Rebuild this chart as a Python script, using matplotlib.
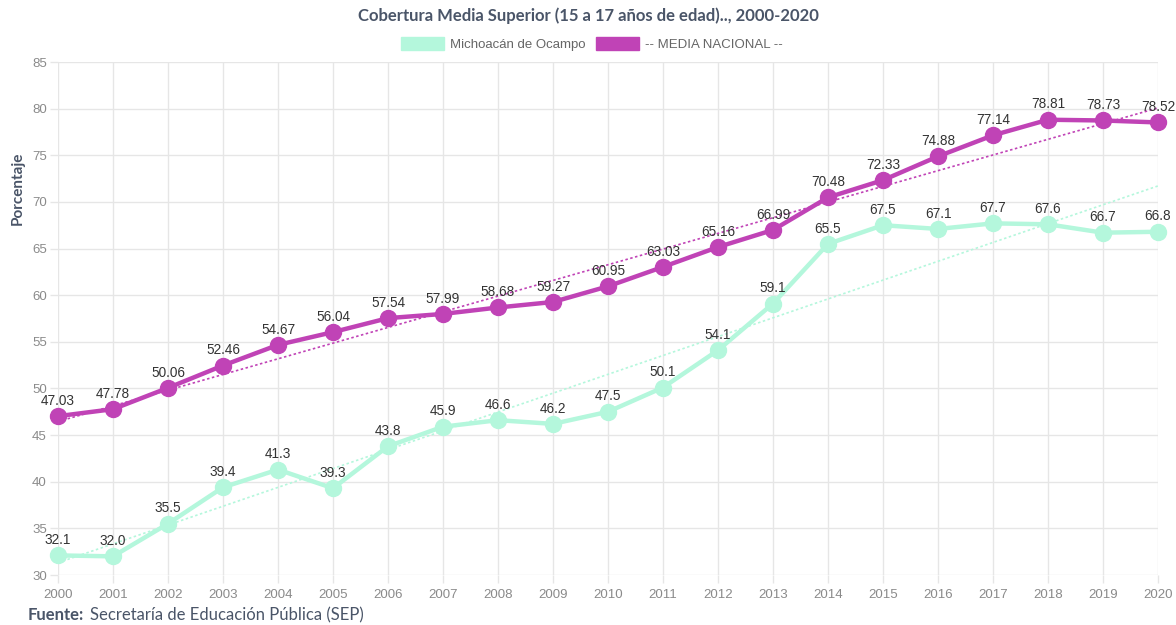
import numpy as np
import matplotlib
matplotlib.use('Agg')
from matplotlib import pyplot as plt
from matplotlib.patches import Patch

years = list(range(2000, 2021))
michoacan = [32.1, 32.0, 35.5, 39.4, 41.3, 39.3, 43.8, 45.9, 46.6, 46.2, 47.5,
             50.1, 54.1, 59.1, 65.5, 67.5, 67.1, 67.7, 67.6, 66.7, 66.8]
nacional = [47.03, 47.78, 50.06, 52.46, 54.67, 56.04, 57.54, 57.99, 58.68, 59.27, 60.95,
            63.03, 65.16, 66.99, 70.48, 72.33, 74.88, 77.14, 78.81, 78.73, 78.52]

GREEN = '#b4f7dc'
PURPLE = '#c043b6'
SLATE = '#4a5568'
TICK = '#8a8a8a'

plt.rcParams['font.family'] = ['Liberation Sans', 'DejaVu Sans']

fig = plt.figure(figsize=(11.76, 6.25), dpi=100)
ax = fig.add_axes([58 / 1176, 1 - 575 / 625, 1100 / 1176, 513 / 625])

x = np.array(years)

# trend lines (linear fit of each series)
for vals, col in [(michoacan, GREEN), (nacional, PURPLE)]:
    m, b = np.polyfit(x, vals, 1)
    ax.plot(x, m * x + b, color=col, lw=1.2, ls=(0, (1.5, 1.5)), zorder=2)

ax.plot(x, michoacan, color=GREEN, lw=3.2, marker='o', ms=11.5, zorder=3, clip_on=False)
ax.plot(x, nacional, color=PURPLE, lw=3.2, marker='o', ms=11.5, zorder=4, clip_on=False)

for xi, v in zip(years, michoacan):
    ax.annotate(f'{v:.1f}', (xi, v), xytext=(0, 6), textcoords='offset points',
                ha='center', va='bottom', fontsize=9.8, color='#333333', zorder=5)
for xi, v in zip(years, nacional):
    ax.annotate(f'{v:.2f}', (xi, v), xytext=(0, 6), textcoords='offset points',
                ha='center', va='bottom', fontsize=9.8, color='#333333', zorder=5)

ax.set_xlim(2000, 2020)
ax.set_ylim(30, 85)
ax.set_xticks(years)
ax.set_yticks(range(30, 90, 5))
ax.grid(True, color='#e6e6e6', lw=1)
ax.set_axisbelow(True)
for s in ax.spines.values():
    s.set_visible(False)
ax.tick_params(axis='both', colors='#e6e6e6', labelcolor=TICK, labelsize=9.5, length=6, width=1)
ax.tick_params(axis='x', pad=4)
ax.tick_params(axis='y', pad=2)

fig.text(18 / 1176, 1 - 188 / 625, 'Porcentaje', rotation=90, ha='center', va='center',
         fontsize=11, fontweight='bold', color=SLATE, family=['Lato', 'DejaVu Sans'])

fig.text(0.5, 1 - 16 / 625, 'Cobertura Media Superior (15 a 17 años de edad).., 2000-2020',
         ha='center', va='center', fontsize=12, fontweight='bold', color=SLATE,
         family=['Lato', 'DejaVu Sans'])

handles = [Patch(facecolor=GREEN, edgecolor=GREEN), Patch(facecolor=PURPLE, edgecolor=PURPLE)]
fig.legend(handles, ['Michoacán de Ocampo', '-- MEDIA NACIONAL --'], loc='center',
           bbox_to_anchor=(0.503, 1 - 44 / 625), ncol=2, frameon=False, fontsize=9.5,
           labelcolor='#666666', handlelength=3.3, handleheight=1.1, handletextpad=0.4,
           columnspacing=0.8)

fig.text(28 / 1176, 1 - 615 / 625, 'Fuente:', ha='left', va='center', fontsize=12,
         fontweight='bold', color=SLATE, family=['Lato', 'DejaVu Sans'])
fig.text(90 / 1176, 1 - 615 / 625, 'Secretaría de Educación Pública (SEP)', ha='left',
         va='center', fontsize=12, color=SLATE, family=['Lato', 'DejaVu Sans'])

fig.savefig('out.png', dpi=100)
